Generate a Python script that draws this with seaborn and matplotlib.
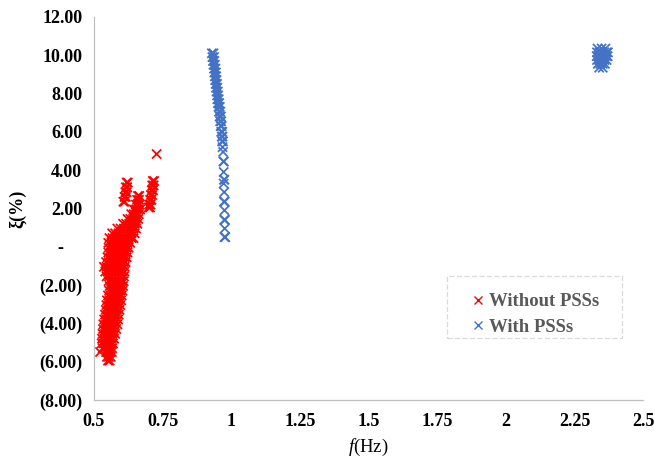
import matplotlib.pyplot as plt
import matplotlib.patches as mpatches
import seaborn as sns
import pandas as pd

# Damping ratio (%) vs frequency (Hz) of the oscillation modes
# (f, xi) points
red_points = [
    (0.551, -5.95), (0.557, -5.95),
    (0.547, -5.75), (0.554, -5.75), (0.561, -5.75),
    (0.522, -5.5), (0.544, -5.5), (0.551, -5.5), (0.558, -5.5), (0.565, -5.5),
    (0.531, -5.3), (0.539, -5.3), (0.548, -5.3), (0.556, -5.3), (0.566, -5.3),
    (0.528, -5.05), (0.536, -5.05), (0.545, -5.05), (0.553, -5.05), (0.561, -5.05), (0.569, -5.05),
    (0.529, -4.8), (0.538, -4.8), (0.547, -4.8), (0.555, -4.8), (0.564, -4.8), (0.573, -4.8),
    (0.531, -4.55), (0.540, -4.55), (0.549, -4.55), (0.558, -4.55), (0.567, -4.55), (0.577, -4.55),
    (0.533, -4.3), (0.542, -4.3), (0.551, -4.3), (0.560, -4.3), (0.570, -4.3), (0.581, -4.3),
    (0.534, -4.05), (0.544, -4.05), (0.553, -4.05), (0.563, -4.05), (0.574, -4.05), (0.585, -4.05),
    (0.537, -3.8), (0.546, -3.8), (0.556, -3.8), (0.566, -3.8), (0.577, -3.8), (0.588, -3.8),
    (0.540, -3.55), (0.549, -3.55), (0.559, -3.55), (0.569, -3.55), (0.580, -3.55), (0.590, -3.55),
    (0.543, -3.3), (0.552, -3.3), (0.562, -3.3), (0.572, -3.3), (0.583, -3.3), (0.593, -3.3),
    (0.545, -3.05), (0.554, -3.05), (0.564, -3.05), (0.575, -3.05), (0.586, -3.05), (0.596, -3.05),
    (0.547, -2.8), (0.556, -2.8), (0.567, -2.8), (0.578, -2.8), (0.589, -2.8), (0.599, -2.8),
    (0.551, -2.55), (0.560, -2.55), (0.570, -2.55), (0.581, -2.55), (0.592, -2.55), (0.601, -2.55),
    (0.555, -2.3), (0.564, -2.3), (0.573, -2.3), (0.584, -2.3), (0.595, -2.3), (0.604, -2.3),
    (0.557, -2.05), (0.566, -2.05), (0.576, -2.05), (0.587, -2.05), (0.597, -2.05), (0.606, -2.05),
    (0.553, -1.8), (0.562, -1.8), (0.572, -1.8), (0.582, -1.8), (0.592, -1.8), (0.601, -1.8), (0.608, -1.8),
    (0.546, -1.55), (0.555, -1.55), (0.565, -1.55), (0.576, -1.55), (0.587, -1.55), (0.598, -1.55), (0.609, -1.55),
    (0.541, -1.3), (0.550, -1.3), (0.560, -1.3), (0.571, -1.3), (0.582, -1.3), (0.593, -1.3), (0.603, -1.3), (0.611, -1.3),
    (0.536, -1.05), (0.546, -1.05), (0.557, -1.05), (0.568, -1.05), (0.579, -1.05), (0.590, -1.05), (0.601, -1.05), (0.612, -1.05),
    (0.544, -0.8), (0.554, -0.8), (0.565, -0.8), (0.576, -0.8), (0.587, -0.8), (0.598, -0.8), (0.608, -0.8), (0.615, -0.8),
    (0.549, -0.55), (0.559, -0.55), (0.570, -0.55), (0.581, -0.55), (0.592, -0.55), (0.603, -0.55), (0.612, -0.55), (0.619, -0.55),
    (0.552, -0.3), (0.562, -0.3), (0.573, -0.3), (0.584, -0.3), (0.595, -0.3), (0.606, -0.3), (0.615, -0.3), (0.622, -0.3),
    (0.553, -0.05), (0.563, -0.05), (0.574, -0.05), (0.586, -0.05), (0.597, -0.05), (0.608, -0.05), (0.618, -0.05), (0.626, -0.05),
    (0.552, 0.2), (0.563, 0.2), (0.575, 0.2), (0.587, 0.2), (0.599, 0.2), (0.611, 0.2), (0.622, 0.2), (0.632, 0.2),
    (0.556, 0.45), (0.567, 0.45), (0.578, 0.45), (0.590, 0.45), (0.602, 0.45), (0.614, 0.45), (0.626, 0.45), (0.637, 0.45), (0.644, 0.45),
    (0.566, 0.7), (0.577, 0.7), (0.589, 0.7), (0.601, 0.7), (0.613, 0.7), (0.625, 0.7), (0.636, 0.7), (0.648, 0.7),
    (0.585, 0.95), (0.597, 0.95), (0.609, 0.95), (0.621, 0.95), (0.633, 0.95), (0.644, 0.95), (0.653, 0.95),
    (0.606, 1.2), (0.617, 1.2), (0.628, 1.2), (0.639, 1.2), (0.649, 1.2), (0.658, 1.2),
    (0.622, 1.45), (0.632, 1.45), (0.642, 1.45), (0.652, 1.45), (0.661, 1.45),
    (0.636, 1.7), (0.645, 1.7), (0.654, 1.7), (0.663, 1.7),
    (0.645, 1.95), (0.653, 1.95), (0.661, 1.95), (0.668, 1.95),
    (0.652, 2.2), (0.659, 2.2), (0.666, 2.2),
    (0.657, 2.45), (0.664, 2.45),
    (0.660, 2.65), (0.665, 2.65),
    # small group near 0.61 Hz
    (0.619, 3.35), (0.623, 3.35), (0.616, 3.1), (0.621, 3.1), (0.614, 2.85), (0.619, 2.85),
    (0.611, 2.6), (0.616, 2.6), (0.607, 2.35), (0.612, 2.35),
    # small group near 0.71 Hz
    (0.714, 3.43), (0.719, 3.43), (0.712, 3.2), (0.717, 3.2), (0.710, 2.95), (0.715, 2.95),
    (0.707, 2.7), (0.712, 2.7), (0.704, 2.45), (0.709, 2.45), (0.701, 2.2), (0.706, 2.2),
    (0.699, 2.05), (0.704, 2.05),
    (0.728, 4.84),
]

blue_points = [
    (0.929, 10.1), (0.935, 10.1), (0.931, 9.9), (0.937, 9.9), (0.933, 9.7), (0.938, 9.7),
    (0.935, 9.5), (0.940, 9.5), (0.937, 9.3), (0.942, 9.3), (0.938, 9.1), (0.944, 9.1),
    (0.940, 8.9), (0.945, 8.9), (0.941, 8.7), (0.946, 8.7), (0.943, 8.5), (0.948, 8.5),
    (0.944, 8.3), (0.949, 8.3), (0.946, 8.1), (0.951, 8.1), (0.948, 7.9), (0.952, 7.9),
    (0.949, 7.7), (0.954, 7.7), (0.951, 7.5), (0.956, 7.5), (0.953, 7.3), (0.958, 7.3),
    (0.955, 7.05), (0.960, 7.05), (0.957, 6.8), (0.962, 6.8), (0.959, 6.55), (0.963, 6.55),
    (0.961, 6.3), (0.965, 6.3), (0.963, 6.0), (0.967, 6.0), (0.965, 5.75), (0.968, 5.75),
    (0.966, 5.5), (0.970, 5.5), (0.968, 5.2), (0.970, 4.95), (0.971, 4.45), (0.973, 4.45),
    (0.972, 3.9), (0.973, 3.5), (0.975, 3.5), (0.972, 3.3), (0.974, 2.85), (0.973, 2.35),
    (0.976, 2.35), (0.975, 1.9), (0.974, 1.4), (0.977, 1.4), (0.976, 0.95), (0.975, 0.5),
    (0.978, 0.5),
    # mode near 2.35 Hz
    (2.333, 10.35), (2.348, 10.35), (2.362, 10.35),
    (2.331, 10.15), (2.340, 10.15), (2.349, 10.15), (2.358, 10.15), (2.367, 10.15), (2.371, 10.15),
    (2.330, 9.95), (2.339, 9.95), (2.348, 9.95), (2.357, 9.95), (2.366, 9.95), (2.370, 9.95),
    (2.331, 9.75), (2.340, 9.75), (2.349, 9.75), (2.358, 9.75), (2.366, 9.75),
    (2.334, 9.55), (2.343, 9.55), (2.352, 9.55), (2.360, 9.55),
    (2.339, 9.35), (2.352, 9.35),
]

series_names = ['Without PSSs', 'With PSSs']
series_colors = ['#FF0000', '#4472C4']

xtick_values = [0.5, 0.75, 1, 1.25, 1.5, 1.75, 2, 2.25, 2.5]
xtick_labels = ['0.5', '0.75', '1', '1.25', '1.5', '1.75', '2', '2.25', '2.5']
ytick_values = [-8, -6, -4, -2, 0, 2, 4, 6, 8, 10, 12]
ytick_labels = ['(8.00)', '(6.00)', '(4.00)', '(2.00)', '-    ', '2.00', '4.00',
                '6.00', '8.00', '10.00', '12.00']

# Build one table for seaborn
df = pd.concat([
    pd.DataFrame(red_points, columns=['f', 'xi']).assign(series=series_names[0]),
    pd.DataFrame(blue_points, columns=['f', 'xi']).assign(series=series_names[1]),
], ignore_index=True)

sns.set_theme(style='white')
plt.rcParams['font.family'] = ['Liberation Serif', 'DejaVu Serif']
plt.rcParams['mathtext.fontset'] = 'custom'
plt.rcParams['mathtext.it'] = 'Liberation Serif:italic'
plt.rcParams['mathtext.rm'] = 'Liberation Serif'

fig = plt.figure(figsize=(6.55, 4.61), dpi=100)
ax = fig.add_axes([0.1435, 0.1325, 0.8388, 0.8308])

sns.scatterplot(data=df, x='f', y='xi', hue='series', hue_order=series_names,
                palette=dict(zip(series_names, series_colors)),
                marker='x', s=44, linewidth=1.25, ax=ax, legend=False)

ax.set_xlim(0.5, 2.5)
ax.set_ylim(-8, 12)
ax.set_xticks(xtick_values)
ax.set_xticklabels(xtick_labels)
ax.set_yticks(ytick_values)
ax.set_yticklabels(ytick_labels)

for lab in ax.get_xticklabels() + ax.get_yticklabels():
    lab.set_fontweight('bold')
    lab.set_fontsize(13)
    lab.set_color('black')

ax.tick_params(axis='x', direction='out', length=3, width=0.8, color='#BFBFBF', pad=6.5)
ax.tick_params(axis='y', direction='out', length=3.5, width=0.8, color='#BFBFBF', pad=5)

for side in ['top', 'right']:
    ax.spines[side].set_visible(False)
for side in ['left', 'bottom']:
    ax.spines[side].set_color('#BFBFBF')
    ax.spines[side].set_linewidth(0.9)

ax.set_xlabel(r'$\mathit{f}$(Hz)', fontsize=13.5, color='black', labelpad=5)
ax.set_ylabel('ξ(%)', fontsize=13, fontweight='bold', color='black', labelpad=9)

# Legend with a dashed frame
handles = [plt.Line2D([], [], linestyle='none', marker='x', markersize=6,
                      markeredgewidth=1.0, color=c) for c in series_colors]
leg = ax.legend(handles, series_names, loc='upper left', bbox_to_anchor=(0.668, 0.303),
                frameon=False, borderpad=0, handlelength=0.8, handletextpad=0.2,
                labelspacing=0.45, prop={'family': 'Liberation Serif', 'weight': 'bold', 'size': 13.5})
for t in leg.get_texts():
    t.set_color('#595959')
ax.add_patch(mpatches.Rectangle((0.6425, 0.1616), 0.3185, 0.1619, transform=ax.transAxes,
                                fill=False, edgecolor='#D9D9D9', linestyle=(0, (4, 2)),
                                linewidth=0.9, clip_on=False))

plt.savefig('out.png', dpi=100)
